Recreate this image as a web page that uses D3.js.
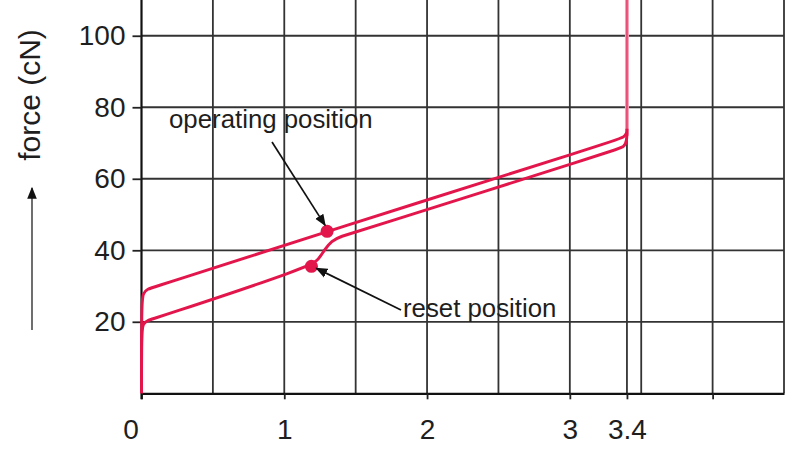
<!DOCTYPE html>
<html>
<head>
<meta charset="utf-8">
<script src="https://cdn.jsdelivr.net/npm/d3@7/dist/d3.min.js"></script>
<style>
  html, body { margin: 0; padding: 0; background: #ffffff; }
  svg { display: block; font-family: "Liberation Sans", Arial, sans-serif; }
</style>
</head>
<body>
<svg id="chart" width="800" height="450"></svg>
<script>
// ---- data ----
const xTickValues = [0, 1, 2, 3, 3.4, 4];
const xTickLabels = ["0", "1", "2", "3", "3.4", ""];
const xGridValues = [0.5, 1, 1.5, 2, 2.5, 3, 3.4, 3.5, 4, 4.5];
const yTickValues = [20, 40, 60, 80, 100];
const yTickLabels = ["20", "40", "60", "80", "100"];

// operating curve (upper branch): [travel mm, force cN]
const upperX = [0, 0, 0.01, 0.04, 0.10, 1.30, 3.33, 3.38, 3.40, 3.40];
const upperY = [0, 25, 28.0, 29.2, 29.8, 45.3, 70.8, 71.6, 73, 110];
// reset curve (lower branch)
const lowerX = [0, 0, 0.01, 0.04, 0.10, 1.19, 1.24, 1.28, 1.33, 1.40, 1.50, 3.33, 3.38, 3.40, 3.40];
const lowerY = [0, 17, 19.5, 20.4, 21.0, 35.5, 37.5, 40.0, 42.6, 44.0, 45.0, 68.2, 68.9, 70.5, 74];

const pointNames = ["operating position", "reset position"];
const pointX = [1.30, 1.19];
const pointY = [45.3, 35.5];

const yAxisTitle = "force (cN)";

// ---- layout ----
const svg = d3.select("#chart");
const x = d3.scaleLinear().domain([0, 4.5]).range([141.5, 784]);
const y = d3.scaleLinear().domain([0, 110]).range([393.3, 0]);

const gridColor = "#333333";
const red = "#e3164c";
const textColor = "#1e1e1e";

const defs = svg.append("defs");
defs.append("marker")
  .attr("id", "ah")
  .attr("viewBox", "0 0 10 10")
  .attr("refX", 9).attr("refY", 5)
  .attr("markerWidth", 12).attr("markerHeight", 12)
  .attr("markerUnits", "userSpaceOnUse")
  .attr("orient", "auto")
  .append("path").attr("d", "M0,1 L10,5 L0,9 Z").attr("fill", "#111");

// grid
const g = svg.append("g");
g.selectAll("line.vg").data(xGridValues).join("line")
  .attr("x1", d => x(d)).attr("x2", d => x(d))
  .attr("y1", y(0)).attr("y2", 0)
  .attr("stroke", gridColor).attr("stroke-width", 1.8);
g.selectAll("line.hg").data(yTickValues).join("line")
  .attr("x1", x(0)).attr("x2", x(4.5))
  .attr("y1", d => y(d)).attr("y2", d => y(d))
  .attr("stroke", gridColor).attr("stroke-width", 1.8);

// axes
const xAxis = d3.axisBottom(x).tickValues(xTickValues)
  .tickFormat((d, i) => xTickLabels[i]).tickSize(6).tickSizeOuter(0).tickPadding(20);
const xg = svg.append("g").attr("transform", `translate(0,${y(0)})`).call(xAxis);
xg.select(".domain").attr("stroke", "#111").attr("stroke-width", 2.2);
xg.selectAll(".tick line").attr("stroke", "#222").attr("stroke-width", 1.8);
xg.selectAll(".tick text").attr("font-size", 28).attr("fill", textColor)
  .attr("font-family", "Liberation Sans, Arial, sans-serif")
  .attr("dx", d => d === 0 ? -11 : 0);

const yAxis = d3.axisLeft(y).tickValues(yTickValues)
  .tickFormat((d, i) => yTickLabels[i]).tickSize(9).tickSizeOuter(0).tickPadding(7);
const yg = svg.append("g").attr("transform", `translate(${x(0)},0)`).call(yAxis);
yg.select(".domain").attr("stroke", "#111").attr("stroke-width", 2.2)
  .attr("d", `M0,${y(0) + 6}V0`);
yg.selectAll(".tick line").attr("stroke", "#222").attr("stroke-width", 1.8);
yg.selectAll(".tick text").attr("font-size", 28).attr("fill", textColor)
  .attr("font-family", "Liberation Sans, Arial, sans-serif");

// curves
const line = d3.line().x(d => x(d[0])).y(d => y(d[1])).curve(d3.curveBasis);
const upper = upperX.map((v, i) => [v, upperY[i]]);
const lower = lowerX.map((v, i) => [v, lowerY[i]]);

// pale upper vertical part
svg.append("line")
  .attr("x1", x(3.4)).attr("x2", x(3.4))
  .attr("y1", y(72)).attr("y2", 0)
  .attr("stroke", "#f4a0b6").attr("stroke-width", 4);
svg.append("line")
  .attr("x1", x(3.4)).attr("x2", x(3.4))
  .attr("y1", y(72)).attr("y2", 0)
  .attr("stroke", "#e4436d").attr("stroke-width", 1.6);

svg.append("path").datum(lower).attr("d", line)
  .attr("fill", "none").attr("stroke", red).attr("stroke-width", 3).attr("stroke-linejoin", "round");
svg.append("path").datum(upper.slice(0, 9)).attr("d", line)
  .attr("fill", "none").attr("stroke", red).attr("stroke-width", 3).attr("stroke-linejoin", "round");

// points
svg.selectAll("circle.pt").data(pointX).join("circle")
  .attr("cx", (d) => x(d)).attr("cy", (d, i) => y(pointY[i]))
  .attr("r", 6.5).attr("fill", red);

// annotations
svg.append("text").attr("x", 169).attr("y", 128)
  .attr("font-size", 25.8).attr("fill", textColor).text(pointNames[0]);
svg.append("line")
  .attr("x1", 272).attr("y1", 142)
  .attr("x2", x(pointX[0]) - 2).attr("y2", y(pointY[0]) - 6)
  .attr("stroke", "#111").attr("stroke-width", 1.7).attr("marker-end", "url(#ah)");

svg.append("text").attr("x", 403).attr("y", 317)
  .attr("font-size", 25.8).attr("fill", textColor).text(pointNames[1]);
svg.append("line")
  .attr("x1", 401).attr("y1", 310)
  .attr("x2", x(pointX[1]) + 5).attr("y2", y(pointY[1]) + 2)
  .attr("stroke", "#111").attr("stroke-width", 1.7).attr("marker-end", "url(#ah)");

// y axis title with arrow
svg.append("text")
  .attr("transform", "translate(40,95) rotate(-90)")
  .attr("text-anchor", "middle")
  .attr("font-size", 30).attr("fill", textColor).text(yAxisTitle);
svg.append("line")
  .attr("x1", 32).attr("y1", 330).attr("x2", 32).attr("y2", 188)
  .attr("stroke", "#555").attr("stroke-width", 1.7).attr("marker-end", "url(#ah)");
</script>
</body>
</html>
